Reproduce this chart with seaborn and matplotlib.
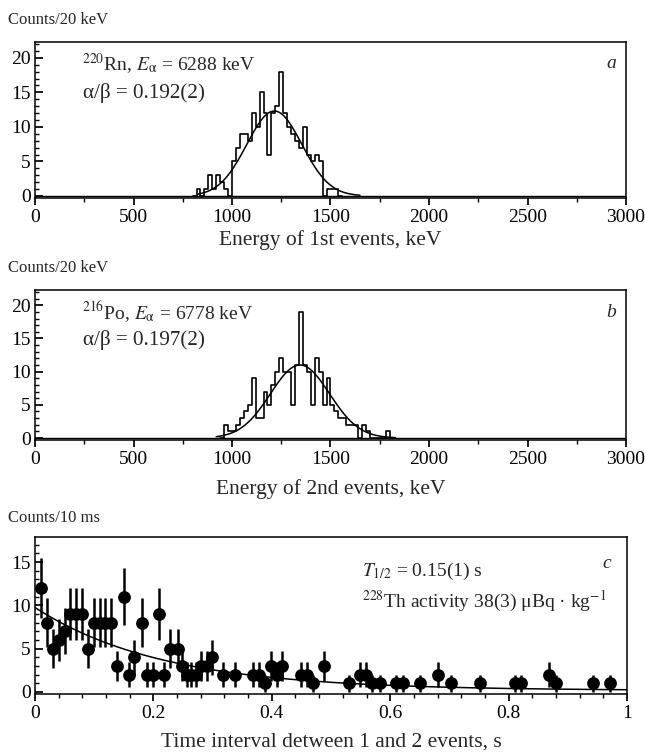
import numpy as np
import pandas as pd
import matplotlib
matplotlib.use("Agg")
import matplotlib.pyplot as plt
from matplotlib.ticker import MultipleLocator, AutoMinorLocator
import seaborn as sns

# ---------------- data ----------------
# panel a: 1st events, 20 keV bins starting at 800 keV
a_start = 800
a_counts = [0, 1, 0, 1, 3, 1, 3, 2, 1, 0,
            5, 7, 9, 9, 8, 12, 10, 15, 12, 6,
            12, 13, 18, 12, 10, 9, 8, 7, 10, 6,
            5, 6, 5, 0, 1, 1, 1, 0]
a_fit = dict(mu=1215, sigma=140, amp=12.3, lo=825, hi=1650)

# panel b: 2nd events, 20 keV bins starting at 940 keV
b_start = 940
b_counts = [0, 2, 1, 1, 2, 3, 4, 5, 9, 3,
            3, 7, 5, 8, 10, 12, 10, 10, 5, 11,
            19, 11, 10, 5, 12, 10, 5, 9, 5, 4,
            3, 3, 2, 2, 2, 0, 2, 1, 0, 0,
            0, 0, 1, 0]
b_fit = dict(mu=1345, sigma=150, amp=11.0, lo=920, hi=1830)
bin_width = 20

# panel c: time intervals
c_t = [0.010, 0.020, 0.030, 0.040, 0.050, 0.059, 0.070, 0.080, 0.089, 0.100,
       0.109, 0.119, 0.129, 0.139, 0.150, 0.159, 0.168, 0.180, 0.190, 0.200,
       0.210, 0.218, 0.228, 0.241, 0.248, 0.256, 0.264, 0.272, 0.280, 0.291,
       0.299, 0.318, 0.338, 0.368, 0.379, 0.389, 0.399, 0.408, 0.418, 0.449,
       0.460, 0.469, 0.489, 0.531, 0.549, 0.559, 0.570, 0.582, 0.610, 0.622,
       0.650, 0.680, 0.702, 0.751, 0.810, 0.821, 0.869, 0.880, 0.942, 0.971]
c_n = [12, 8, 5, 6, 7, 9, 9, 9, 5, 8,
       8, 8, 8, 3, 11, 2, 4, 8, 2, 2,
       9, 2, 5, 5, 3, 2, 2, 2, 3, 3,
       4, 2, 2, 2, 2, 1, 3, 2, 3, 2,
       2, 1, 3, 1, 2, 2, 1, 1, 1, 1,
       1, 2, 1, 1, 1, 1, 2, 1, 1, 1]
c_fit = dict(amp=9.6, half_life=0.15, const=0.15)

a_xticks = [0, 500, 1000, 1500, 2000, 2500, 3000]
c_xticks = [0, 0.2, 0.4, 0.6, 0.8, 1]
c_xticklabels = ["0", "0.2", "0.4", "0.6", "0.8", "1"]

# ---------------- style ----------------
sns.set_theme(style="ticks")
plt.rcParams["font.family"] = ["Liberation Serif", "DejaVu Serif"]
plt.rcParams["mathtext.fontset"] = "stix"
plt.rcParams["axes.linewidth"] = 1.1

W, H = 645, 755
fig = plt.figure(figsize=(W / 100, H / 100), dpi=100)


def px_axes(left, top, right, bottom):
    return fig.add_axes([left / W, 1 - bottom / H, (right - left) / W, (bottom - top) / H])


axa = px_axes(35, 42, 626, 198)
axb = px_axes(35, 290, 626, 440)
axc = px_axes(35, 537, 627, 694)

TICK_FS = 14
LAB_FS = 15.5


def hist_panel(ax, start, counts, fit, xlabel):
    counts = np.asarray(counts, float)
    edges = [float(start + bin_width * i) for i in range(len(counts) + 1)]
    centers = [start + bin_width * (i + 0.5) for i in range(len(counts))]
    df = pd.DataFrame({"E": centers, "n": counts})
    ax.axhline(0, color="black", lw=1.0, zorder=1)
    sns.histplot(data=df, x="E", weights="n", bins=edges, element="step",
                 fill=False, color="black", linewidth=1.2, ax=ax)
    e = np.linspace(fit["lo"], fit["hi"], 400)
    g = fit["amp"] * np.exp(-0.5 * ((e - fit["mu"]) / fit["sigma"]) ** 2)
    sns.lineplot(x=e, y=g, color="black", linewidth=1.1, ax=ax)
    ax.set_xlim(0, 3000)
    ax.set_ylim(-0.3, 22.3)
    ax.set_xticks(a_xticks)
    ax.xaxis.set_minor_locator(MultipleLocator(250))
    ax.set_yticks([0, 5, 10, 15, 20])
    ax.yaxis.set_minor_locator(MultipleLocator(1))
    ax.set_ylabel("")
    ax.set_xlabel(xlabel, fontsize=LAB_FS)


hist_panel(axa, a_start, a_counts, a_fit, "Energy of 1st events, keV")
hist_panel(axb, b_start, b_counts, b_fit, "Energy of 2nd events, keV")

# panel c
t = np.asarray(c_t)
n = np.asarray(c_n, float)
err = np.sqrt(n)
lower = np.minimum(err, n)
axc.errorbar(t, n, yerr=[lower, err], fmt="none", ecolor="black", elinewidth=1.8, capsize=0, zorder=2)
sns.scatterplot(x=t, y=n, color="black", s=85, edgecolor="black", linewidth=0, ax=axc, zorder=3)
tt = np.linspace(0, 1, 400)
ff = c_fit["amp"] * np.exp(-np.log(2) * tt / c_fit["half_life"]) + c_fit["const"]
sns.lineplot(x=tt, y=ff, color="black", linewidth=1.1, ax=axc, zorder=1)
axc.set_xlim(0, 1)
axc.set_ylim(-0.25, 17.9)
axc.set_xticks(c_xticks)
axc.set_xticklabels(c_xticklabels)
axc.xaxis.set_minor_locator(AutoMinorLocator(5))
axc.set_yticks([0, 5, 10, 15])
axc.yaxis.set_minor_locator(MultipleLocator(1))
axc.set_xlabel("Time interval detween 1 and 2 events, s", fontsize=LAB_FS)

for ax in (axa, axb, axc):
    ax.tick_params(axis="both", which="both", labelsize=TICK_FS, color="black", labelcolor="black")
    ax.tick_params(axis="y", which="major", direction="in", length=6, pad=3)
    ax.tick_params(axis="y", which="minor", direction="in", length=3)
    ax.tick_params(axis="x", which="major", direction="out", length=5, pad=3)
    ax.tick_params(axis="x", which="minor", direction="out", length=3)
    for s in ax.spines.values():
        s.set_visible(True)
        s.set_color("black")
    ax.xaxis.label.set_va("center")

axa.xaxis.set_label_coords(0.5, -(240 - 198) / 156)
axb.xaxis.set_label_coords(0.5, -(489 - 440) / 150)
axc.xaxis.set_label_coords(0.5, -(742 - 694) / 157)

# annotations
fs_ann = 14
axa.text(0.079, 0.86, r"$^{220}$Rn, $E_{\mathrm{\alpha}}$ = 6288 keV", transform=axa.transAxes,
         fontsize=fs_ann, va="center", ha="left")
axa.text(0.081, 0.67, "α/β = 0.192(2)", transform=axa.transAxes,
         fontsize=15.2, va="center", ha="left")
axa.text(0.975, 0.86, "a", style="italic", transform=axa.transAxes, fontsize=fs_ann,
         va="center", ha="center")

axb.text(0.079, 0.85, r"$^{216}$Po, $E_{\mathrm{\alpha}}$ = 6778 keV", transform=axb.transAxes,
         fontsize=fs_ann, va="center", ha="left")
axb.text(0.081, 0.665, "α/β = 0.197(2)", transform=axb.transAxes,
         fontsize=15.2, va="center", ha="left")
axb.text(0.975, 0.85, "b", style="italic", transform=axb.transAxes, fontsize=fs_ann,
         va="center", ha="center")

axc.text(0.552, 0.78, r"$T_{1/2}$ = 0.15(1) s", transform=axc.transAxes,
         fontsize=fs_ann, va="center", ha="left")
axc.text(0.552, 0.59, r"$^{228}$Th activity 38(3) μBq · kg$^{-1}$", transform=axc.transAxes,
         fontsize=fs_ann, va="center", ha="left")
axc.text(0.965, 0.83, "c", style="italic", transform=axc.transAxes, fontsize=fs_ann,
         va="center", ha="center")

fig.text(8 / W, 1 - 20 / H, "Counts/20 keV", fontsize=12, va="center", ha="left")
fig.text(8 / W, 1 - 268 / H, "Counts/20 keV", fontsize=12, va="center", ha="left")
fig.text(8 / W, 1 - 518 / H, "Counts/10 ms", fontsize=12, va="center", ha="left")

fig.savefig("out.png", dpi=100, facecolor="white")
